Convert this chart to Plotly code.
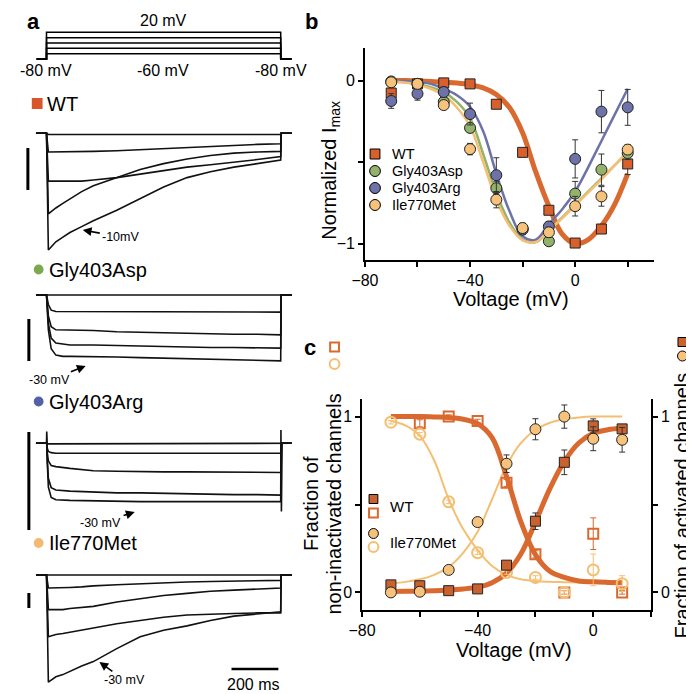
import plotly.graph_objects as go

W = H = 694
OFF = 8  # page body margin: the figure is drawn 8 px right/down of the page origin
def X(px): return min(1.0, max(0.0, (px - OFF) / W))
def Y(py): return min(1.0, max(0.0, 1 - (py - OFF) / H))

FONT = "Liberation Sans, Arial, sans-serif"

# ------------------------------------------------------------------ data
# panel a: voltage protocol (mV) and current traces (normalized to the largest trace)
proto_t = [-42, 0, 0, 1000, 1000, 1046]
proto_hold = -80
proto_steps = [-60, -40, -20, 0, 20]

wt_t = [-45, 0, 8, 20, 40, 70, 100, 150, 200, 300, 400, 500, 600, 700, 800, 900, 1000, 1002, 1047]
wt_traces = [
    [0, 0, -0.01, -0.01, -0.01, -0.01, -0.01, -0.01, -0.01, -0.01, -0.01, -0.01, -0.01, -0.01, -0.01, -0.01, -0.01, 0, 0],
    [0, 0, -0.16, -0.16, -0.16, -0.16, -0.16, -0.155, -0.155, -0.15, -0.14, -0.13, -0.12, -0.11, -0.10, -0.095, -0.09, 0, 0],
    [0, 0, -0.41, -0.41, -0.41, -0.41, -0.41, -0.41, -0.40, -0.38, -0.35, -0.32, -0.29, -0.27, -0.25, -0.225, -0.20, 0, 0],
    [0, 0, -0.69, -0.67, -0.64, -0.60, -0.56, -0.50, -0.45, -0.38, -0.31, -0.26, -0.22, -0.19, -0.17, -0.16, -0.155, 0, 0],
    [0, 0, -1.0, -0.97, -0.93, -0.89, -0.85, -0.80, -0.75, -0.66, -0.56, -0.46, -0.38, -0.33, -0.29, -0.26, -0.23, 0, 0],
]
asp_t = [-45, 0, 8, 20, 40, 70, 100, 200, 300, 400, 500, 600, 700, 800, 900, 1000, 1002, 1047]
asp_traces = [
    [0, 0, 0, 0, 0, 0, 0, 0, 0, 0, 0, 0, 0, 0, 0, 0, 0, 0],
    [0, 0, -0.15, -0.24, -0.26, -0.26, -0.26, -0.26, -0.26, -0.26, -0.27, -0.27, -0.27, -0.27, -0.27, -0.27, 0, 0],
    [0, 0, -0.33, -0.50, -0.55, -0.55, -0.55, -0.56, -0.58, -0.59, -0.60, -0.61, -0.61, -0.62, -0.62, -0.63, 0, 0],
    [0, 0, -0.45, -0.68, -0.76, -0.78, -0.79, -0.79, -0.80, -0.81, -0.82, -0.82, -0.83, -0.83, -0.84, -0.84, 0, 0],
    [0, 0, -0.55, -0.85, -0.95, -0.97, -0.97, -0.97, -0.98, -0.99, -1.0, -1.0, -1.01, -1.02, -1.03, -1.04, 0, 0],
]
arg_t = [-45, 0, 1, 3, 8, 20, 40, 100, 200, 300, 400, 500, 600, 700, 800, 900, 1000, 1001, 1003, 1006, 1047]
arg_traces = [
    [0, 0, 0.2, 0, -0.01, -0.01, 0, 0, 0, 0, 0, 0, 0, 0, 0, 0, 0, 0, 0, 0, 0],
    [0, 0, 0, -0.08, -0.14, -0.16, -0.17, -0.17, -0.17, -0.17, -0.17, -0.17, -0.17, -0.17, -0.17, -0.17, -0.17, -0.17, 0, 0, 0],
    [0, 0, 0, -0.15, -0.30, -0.38, -0.40, -0.43, -0.47, -0.48, -0.49, -0.49, -0.49, -0.49, -0.50, -0.50, -0.50, -0.50, 0, 0, 0],
    [0, 0, 0, -0.25, -0.60, -0.76, -0.80, -0.82, -0.84, -0.85, -0.85, -0.86, -0.86, -0.87, -0.88, -0.88, -0.89, -0.89, 0, 0, 0],
    [0, 0, 0, -0.30, -0.75, -0.93, -0.97, -0.98, -0.99, -0.99, -1.0, -1.0, -1.0, -1.0, -1.0, -1.0, -1.0, 0.23, -1.17, 0, 0],
]
ile_t = [-45, 0, 8, 20, 40, 70, 100, 150, 200, 300, 400, 500, 600, 700, 800, 900, 1000, 1002, 1047]
ile_traces = [
    [0, 0, 0, 0, 0, 0, 0, 0, 0, 0, 0, 0, 0, 0, 0, 0, 0, 0, 0],
    [0, 0, -0.12, -0.12, -0.12, -0.12, -0.115, -0.11, -0.10, -0.09, -0.08, -0.07, -0.065, -0.06, -0.055, -0.05, -0.05, 0, 0],
    [0, 0, -0.32, -0.32, -0.32, -0.32, -0.31, -0.30, -0.29, -0.25, -0.22, -0.19, -0.17, -0.15, -0.14, -0.13, -0.12, 0, 0],
    [0, 0, -0.57, -0.56, -0.55, -0.54, -0.53, -0.51, -0.49, -0.45, -0.42, -0.39, -0.37, -0.36, -0.355, -0.35, -0.35, 0, 0],
    [0, 0, -0.99, -0.97, -0.94, -0.92, -0.89, -0.84, -0.80, -0.68, -0.57, -0.51, -0.47, -0.42, -0.38, -0.36, -0.34, 0, 0],
]
scale_bar_ms = 200

# panel b: normalized I-V
V_b = [-70, -60, -50, -40, -30, -20, -10, 0, 10, 20]
wt_b = [-0.076, -0.02, -0.014, -0.02, -0.145, -0.44, -0.795, -0.996, -0.91, -0.511]
wt_b_err = [0.03, 0.02, 0.01, 0.01, 0.02, 0.02, 0.02, 0.01, 0.02, 0.065]
asp_b = [-0.005, -0.02, -0.13, -0.29, -0.66, -0.91, -0.985, -0.693, -0.546, -0.444]
asp_b_err = [0.02, 0.02, 0.03, 0.025, 0.04, 0.03, 0.02, 0.075, 0.096, 0.04]
arg_b = [-0.125, -0.08, -0.07, -0.205, -0.58, -0.914, -0.894, -0.48, -0.19, -0.164]
arg_b_err = [0.045, 0.04, 0.03, 0.067, 0.107, 0.03, 0.03, 0.117, 0.13, 0.11]
ile_b = [-0.01, -0.02, -0.15, -0.42, -0.73, -0.904, -0.93, -0.77, -0.71, -0.423]
ile_b_err = [0.01, 0.02, 0.02, 0.035, 0.05, 0.03, 0.03, 0.06, 0.06, 0.03]

V_fit_b = [-70, -65, -60, -55, -50, -45, -40, -35, -30, -25, -20, -15, -10, -5, 0, 5, 10, 15, 20]
wt_fit_b = [0, 0, -0.002, -0.005, -0.01, -0.015, -0.025, -0.045, -0.085, -0.165, -0.32, -0.56, -0.77, -0.94, -1.0, -0.975, -0.89, -0.76, -0.57]
asp_fit_b = [-0.005, -0.01, -0.02, -0.04, -0.07, -0.13, -0.23, -0.45, -0.69, -0.87, -0.975, -0.99, -0.92, -0.84, -0.76, -0.68, -0.6, -0.52, -0.44]
arg_fit_b = [0, -0.003, -0.008, -0.02, -0.05, -0.09, -0.16, -0.31, -0.57, -0.80, -0.955, -0.975, -0.88, -0.79, -0.68, -0.53, -0.37, -0.21, -0.05]
ile_fit_b = [-0.005, -0.012, -0.025, -0.05, -0.09, -0.165, -0.28, -0.50, -0.73, -0.89, -0.98, -0.99, -0.92, -0.845, -0.765, -0.685, -0.605, -0.52, -0.435]

# panel c: activation / inactivation
V_c = [-70, -60, -50, -40, -30, -20, -10, 0, 10]
wt_act = [0.043, 0.038, 0.01, 0.02, 0.155, 0.405, 0.74, 0.947, 0.93]
wt_act_err = [0.01, 0.01, 0.01, 0.01, 0.02, 0.047, 0.07, 0.04, 0.02]
wt_inact = [None, 0.962, 1.0, 0.975, 0.623, 0.217, 0.0, 0.334, 0.0]
wt_inact_err = [0, 0.02, 0.01, 0.01, 0.02, 0.02, 0.01, 0.09, 0.01]
ile_act = [0.0, 0.004, 0.128, 0.4, 0.732, 0.928, 1.0, 0.874, 0.868]
ile_act_err = [0.01, 0.01, 0.01, 0.01, 0.05, 0.06, 0.066, 0.068, 0.07]
ile_inact = [0.968, 0.9, 0.515, 0.226, 0.113, 0.085, 0.0, 0.128, 0.05]
ile_inact_err = [0.01, 0.01, 0.01, 0.01, 0.01, 0.01, 0.01, 0.09, 0.045]

V_fit_c = [-70, -65, -60, -55, -50, -45, -40, -35, -30, -25, -20, -15, -10, -5, 0, 5, 10]
wt_act_fit = [0.005, 0.006, 0.008, 0.01, 0.014, 0.02, 0.03, 0.055, 0.11, 0.22, 0.40, 0.59, 0.745, 0.85, 0.905, 0.925, 0.935]
wt_inact_fit = [1.0, 1.0, 1.0, 0.998, 0.995, 0.985, 0.96, 0.88, 0.66, 0.40, 0.215, 0.12, 0.085, 0.065, 0.06, 0.057, 0.055]
ile_act_fit = [0.05, 0.06, 0.075, 0.10, 0.145, 0.225, 0.345, 0.53, 0.72, 0.85, 0.925, 0.965, 0.985, 0.995, 1.0, 1.0, 1.0]
ile_inact_fit = [0.975, 0.95, 0.89, 0.75, 0.53, 0.36, 0.24, 0.15, 0.10, 0.075, 0.065, 0.06, 0.058, 0.056, 0.055, 0.055, 0.055]

# ------------------------------------------------------------------ colours
C_WT = "#D8602C"
C_WT_LINE = "#D9692F"
C_ASP = "#93B36D"
C_ARG = "#6D72A8"
C_ILE = "#F6C27C"
C_ILE_LINE = "#F4BF72"
C_WT_C = "#C9622F"

fig = go.Figure()

# ------------------------------------------------------------------ panel a
for lvl in proto_steps:
    fig.add_trace(go.Scatter(x=proto_t, y=[proto_hold, proto_hold, lvl, lvl, proto_hold, proto_hold],
                             mode="lines", line=dict(color="black", width=1.5),
                             xaxis="x", yaxis="y", hoverinfo="skip", showlegend=False))

for yname, tt, trs in [("y2", wt_t, wt_traces), ("y3", asp_t, asp_traces),
                       ("y4", arg_t, arg_traces), ("y5", ile_t, ile_traces)]:
    for tr in trs:
        fig.add_trace(go.Scatter(x=tt, y=tr, mode="lines", line=dict(color="#111", width=1.6),
                                 xaxis="x", yaxis=yname, hoverinfo="skip", showlegend=False))

# ------------------------------------------------------------------ panel b
for fit, col, w in [(wt_fit_b, C_WT_LINE, 5), (asp_fit_b, C_ASP, 2.5),
                    (arg_fit_b, C_ARG, 2.5), (ile_fit_b, C_ILE_LINE, 2.5)]:
    fig.add_trace(go.Scatter(x=V_fit_b, y=fit, mode="lines", line=dict(color=col, width=w, shape="spline"),
                             xaxis="x2", yaxis="y6", hoverinfo="skip", showlegend=False))

for name, vals, err, col, sym, size in [("WT", wt_b, wt_b_err, C_WT, "square", 10),
                                        ("Gly403Asp", asp_b, asp_b_err, C_ASP, "circle", 11),
                                        ("Gly403Arg", arg_b, arg_b_err, C_ARG, "circle", 11),
                                        ("Ile770Met", ile_b, ile_b_err, C_ILE, "circle", 11)]:
    fig.add_trace(go.Scatter(x=V_b, y=vals, mode="markers", name=name,
                             marker=dict(symbol=sym, size=size, color=col, line=dict(color="#222", width=1)),
                             error_y=dict(type="data", array=err, color="#333", thickness=1, width=3),
                             xaxis="x2", yaxis="y6", showlegend=False))

# ------------------------------------------------------------------ panel c
for fit, col, w in [(ile_act_fit, C_ILE_LINE, 2), (ile_inact_fit, C_ILE_LINE, 2),
                    (wt_act_fit, C_WT_LINE, 5), (wt_inact_fit, C_WT_LINE, 5)]:
    fig.add_trace(go.Scatter(x=V_fit_c, y=fit, mode="lines", line=dict(color=col, width=w, shape="spline"),
                             xaxis="x3", yaxis="y7", hoverinfo="skip", showlegend=False))

fig.add_trace(go.Scatter(x=V_c, y=wt_inact, mode="markers", name="WT inactivation",
                         marker=dict(symbol="square-open", size=10, color=C_WT_LINE, line=dict(width=2)),
                         error_y=dict(type="data", array=wt_inact_err, color=C_WT_LINE, thickness=1, width=3),
                         xaxis="x3", yaxis="y7", showlegend=False))
fig.add_trace(go.Scatter(x=V_c, y=ile_inact, mode="markers", name="Ile770Met inactivation",
                         marker=dict(symbol="circle-open", size=11, color=C_ILE_LINE, line=dict(width=2)),
                         error_y=dict(type="data", array=ile_inact_err, color=C_ILE_LINE, thickness=1, width=3),
                         xaxis="x3", yaxis="y7", showlegend=False))
fig.add_trace(go.Scatter(x=V_c, y=wt_act, mode="markers", name="WT activation",
                         marker=dict(symbol="square", size=10, color=C_WT_C, line=dict(color="#222", width=1)),
                         error_y=dict(type="data", array=wt_act_err, color="#333", thickness=1, width=3),
                         xaxis="x3", yaxis="y8", showlegend=False))
fig.add_trace(go.Scatter(x=V_c, y=ile_act, mode="markers", name="Ile770Met activation",
                         marker=dict(symbol="circle", size=11, color=C_ILE, line=dict(color="#222", width=1)),
                         error_y=dict(type="data", array=ile_act_err, color="#333", thickness=1, width=3),
                         xaxis="x3", yaxis="y8", showlegend=False))

# ------------------------------------------------------------------ axes
hidden = dict(visible=False, fixedrange=True)
def ax_style(minor_step):
    return dict(showline=True, linecolor="black", linewidth=1.5, ticks="outside", ticklen=5,
                tickwidth=1.5, tickcolor="black", showgrid=False, zeroline=False,
                tickfont=dict(family=FONT, size=16, color="black"),
                minor=dict(dtick=minor_step, tick0=0, ticks="outside", ticklen=5, tickwidth=1.5,
                           tickcolor="black", showgrid=False))

layout = dict(
    width=W, height=H, autosize=False, margin=dict(l=0, r=0, t=0, b=0),
    paper_bgcolor="white", plot_bgcolor="white", showlegend=False,
    font=dict(family=FONT, color="black"),
    xaxis=dict(domain=[X(8), X(300)], range=[-104.6, 1117], anchor="y", **hidden),
    yaxis=dict(domain=[Y(65), Y(25)], range=[-102.5, 47.3], anchor="x", **hidden),
    yaxis2=dict(domain=[Y(260), Y(120)], range=[-1.086, 0.114], anchor="x", **hidden),
    yaxis3=dict(domain=[Y(375), Y(280)], range=[-1.264, 0.237], anchor="x", **hidden),
    yaxis4=dict(domain=[Y(520), Y(425)], range=[-1.316, 0.314], anchor="x", **hidden),
    yaxis5=dict(domain=[Y(694), Y(560)], range=[-1.099, 0.1385], anchor="x", **hidden),
    xaxis2=dict(domain=[X(358), X(653)], range=[-80, 30], anchor="y6",
                tickvals=[-80, -40, 0], **ax_style(20)),
    yaxis6=dict(domain=[Y(260), Y(48)], range=[-1.1, 0.2], anchor="x2",
                tickvals=[-1, 0], **ax_style(0.5)),
    xaxis3=dict(domain=[X(355), X(650)], range=[-80, 20], anchor="y7",
                tickvals=[-80, -40, 0], **ax_style(20)),
    yaxis7=dict(domain=[Y(610), Y(399)], range=[-0.1, 1.1], anchor="x3",
                tickvals=[0, 1], **ax_style(0.5)),
    yaxis8=dict(range=[-0.1, 1.1], anchor="x3", overlaying="y7", side="right",
                tickvals=[0, 1], **ax_style(0.5)),
)
fig.update_layout(**layout)

# ------------------------------------------------------------------ annotations & shapes
ann = []
shapes = []

def text(px, py, s, size, xanchor="center", yanchor="middle", angle=0, bold=False, color="black"):
    ann.append(dict(x=X(px), y=Y(py), xref="paper", yref="paper", text=(f"<b>{s}</b>" if bold else s),
                    showarrow=False, xanchor=xanchor, yanchor=yanchor, textangle=angle, borderpad=0,
                    font=dict(family=FONT, size=size, color=color)))

def arrow(hx, hy, tx, ty, s, size=12.5):
    ann.append(dict(x=X(hx), y=Y(hy), xref="paper", yref="paper", text=s, showarrow=True,
                    ax=tx - hx, ay=ty - hy, arrowhead=2, arrowsize=1.1, arrowwidth=1.6,
                    arrowcolor="black", standoff=0, startstandoff=2, borderpad=0,
                    font=dict(family=FONT, size=size, color="black")))

def rect(cx, cy, s, fill, line="black", lw=1):
    shapes.append(dict(type="rect", xref="paper", yref="paper", x0=X(cx - s / 2), x1=X(cx + s / 2),
                       y0=Y(cy + s / 2), y1=Y(cy - s / 2), fillcolor=fill,
                       line=dict(color=line, width=lw)))

def circ(cx, cy, d, fill, line="black", lw=1):
    shapes.append(dict(type="circle", xref="paper", yref="paper", x0=X(cx - d / 2), x1=X(cx + d / 2),
                       y0=Y(cy + d / 2), y1=Y(cy - d / 2), fillcolor=fill,
                       line=dict(color=line, width=lw)))

def vbar(px, py0, py1, w=3):
    shapes.append(dict(type="line", xref="paper", yref="paper", x0=X(px), x1=X(px),
                       y0=Y(py0), y1=Y(py1), line=dict(color="black", width=w)))

# panel labels
text(19.5, 21.5, "a", 22, bold=True)
text(303.5, 21.5, "b", 22, bold=True)
text(301.5, 348, "c", 22, bold=True)

# protocol labels
text(152, 21, "20 mV", 16)
text(32, 70, "-80 mV", 16)
text(152, 70, "-60 mV", 16)
text(272, 70, "-80 mV", 16)

# group labels
rect(23.5, 103.5, 11, "#D9562A", line="#D9562A", lw=0)
text(33, 104, "WT", 20, xanchor="left")
circ(25, 269.5, 10, "#7BAA4D", line="#7BAA4D", lw=0)
text(35, 270, "Gly403Asp", 20, xanchor="left")
circ(25, 401.5, 10, "#5460A8", line="#5460A8", lw=0)
text(35, 402, "Gly403Arg", 20, xanchor="left")
circ(25, 543, 10, "#F3BA72", line="#F3BA72", lw=0)
text(35, 543, "Ile770Met", 20, xanchor="left")

# current scale bars
vbar(14, 148, 190)
vbar(15, 319, 361)
vbar(15, 432, 530)
vbar(15, 593, 608)
# time scale bar (200 ms on the time axis)
shapes.append(dict(type="line", xref="x", yref="paper", x0=1000 - scale_bar_ms - 10, x1=1000 - 10,
                   y0=Y(669), y1=Y(669), line=dict(color="black", width=2.5)))
text(244, 684, "200 ms", 16)

# arrows with voltage labels
arrow(70, 230, 108, 237, "-10mV")
arrow(73, 366, 37, 380, "-30 mV")
arrow(123, 512, 89, 523, "-30 mV")
arrow(87, 662, 112, 680, "-30 mV")

# panel b legend
rect(368.3, 154, 10, C_WT)
circ(368.3, 171, 11, C_ASP)
circ(368.3, 188, 11, C_ARG)
circ(368.3, 205, 11, C_ILE)
for py, s in [(154, "WT"), (171, "Gly403Asp"), (188, "Gly403Arg"), (205, "Ile770Met")]:
    text(385, py, s, 14.5, xanchor="left")
# panel b titles
text(507, 299, "Voltage (mV)", 20)
text(322, 170, "Normalized I<sub>max</sub>", 20, angle=-90)

# panel c legend
rect(366.7, 499, 9, C_WT_C)
rect(366.7, 513, 9, "rgba(0,0,0,0)", line=C_WT_LINE, lw=2)
circ(366.7, 533.5, 10, C_ILE)
circ(366.7, 547, 10, "rgba(0,0,0,0)", line=C_ILE_LINE, lw=2)
text(383, 507, "WT", 15, xanchor="left")
text(383, 542, "Ile770Met", 15, xanchor="left")
# panel c titles
text(510, 650, "Voltage (mV)", 20)
text(303, 504, "Fraction of", 20, angle=-90)
text(326, 504, "non-inactivated channels", 20, angle=-90)
rect(327, 347, 9, "rgba(0,0,0,0)", line=C_WT_LINE, lw=2)
circ(327, 364, 10, "rgba(0,0,0,0)", line=C_ILE_LINE, lw=2)
text(682, 505, "Fraction of activated channels", 20, angle=-90)
rect(682, 342, 9, C_WT_C)
circ(682, 356, 10, C_ILE)

fig.update_layout(annotations=ann, shapes=shapes)
fig.write_html("out.html")
